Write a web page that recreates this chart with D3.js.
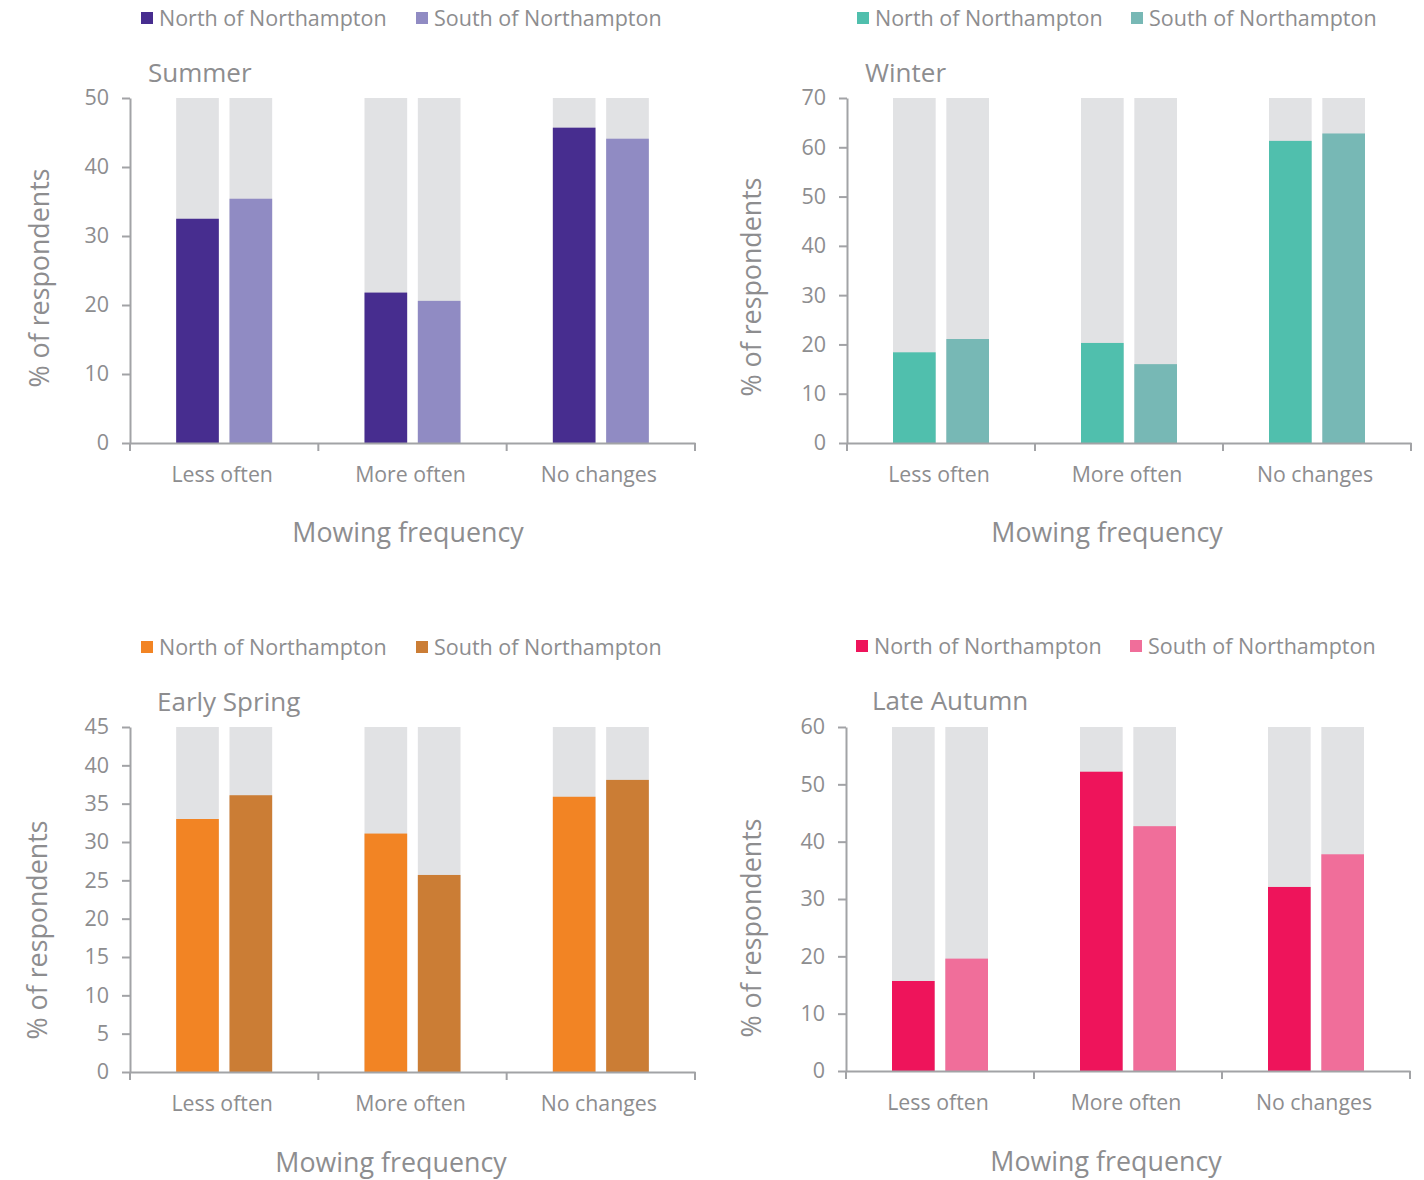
<!DOCTYPE html>
<html><head><meta charset="utf-8">
<script src="https://cdn.jsdelivr.net/npm/d3@7"></script>
<style>
body{margin:0;background:#fff;}
svg text{font-family:"Open Sans",sans-serif;fill:#8d8d8f;}
</style></head>
<body><svg id="chart" width="1424" height="1180"></svg>
<script>
// ---- data ----
const categories = ["Less often", "More often", "No changes"];
const seriesNames = ["North of Northampton", "South of Northampton"];
const panelTitles = ["Summer", "Winter", "Early Spring", "Late Autumn"];
const summerNorth = [32.5, 21.8, 45.7];
const summerSouth = [35.4, 20.6, 44.1];
const winterNorth = [18.4, 20.3, 61.3];
const winterSouth = [21.1, 16.0, 62.8];
const springNorth = [33.0, 31.1, 35.9];
const springSouth = [36.1, 25.7, 38.1];
const autumnNorth = [15.7, 52.2, 32.1];
const autumnSouth = [19.6, 42.7, 37.8];
const yMax = [50, 70, 45, 60];
const yTicks = [
  [0, 10, 20, 30, 40, 50],
  [0, 10, 20, 30, 40, 50, 60, 70],
  [0, 5, 10, 15, 20, 25, 30, 35, 40, 45],
  [0, 10, 20, 30, 40, 50, 60]
];
const xTitle = "Mowing frequency";
const yTitle = "% of respondents";

// ---- styling / layout ----
const colors = [
  ["#472d8f", "#908bc3"],
  ["#50bfad", "#77b8b5"],
  ["#f28424", "#cb7d35"],
  ["#ee145b", "#f06e9a"]
];
const bgColor = "#e1e2e4";
const axisColor = "#a2a3a6";
const layouts = [
  {x0:130, x1:695, yT:98, yB:443, legX:[141,416], legY:18, titleX:148, titleY:73, yLabX:40, yLabY:278, xLabX:408, xLabY:533},
  {x0:847, x1:1411, yT:98, yB:443, legX:[857,1131], legY:18, titleX:865, titleY:73, yLabX:752, yLabY:287, xLabX:1107, xLabY:533},
  {x0:130, x1:695, yT:727, yB:1072, legX:[141,416], legY:647, titleX:157, titleY:702, yLabX:38, yLabY:930, xLabX:391, xLabY:1163},
  {x0:846, x1:1410, yT:727, yB:1071, legX:[856,1130], legY:646, titleX:872, titleY:701, yLabX:752, yLabY:928, xLabX:1106, xLabY:1162}
];
const panelData = [
  [summerNorth, summerSouth],
  [winterNorth, winterSouth],
  [springNorth, springSouth],
  [autumnNorth, autumnSouth]
];

const svg = d3.select("#chart");

panelData.forEach((ser, pi) => {
  const L = layouts[pi];
  const g = svg.append("g");
  const x = d3.scaleBand().domain(categories).range([L.x0, L.x1]).paddingInner(0).paddingOuter(0);
  const x1 = d3.scaleBand().domain(seriesNames).range([-48, 48]).paddingInner(0.2).paddingOuter(0);
  const y = d3.scaleLinear().domain([0, yMax[pi]]).range([L.yB, L.yT]);

  // legend
  seriesNames.forEach((s, si) => {
    g.append("rect").attr("x", L.legX[si]).attr("y", L.legY - 6).attr("width", 12).attr("height", 12)
      .attr("fill", colors[pi][si]);
    g.append("text").attr("x", L.legX[si] + 18).attr("y", L.legY).attr("dy", "0.35em")
      .attr("font-size", 21.5).text(s);
  });

  // title
  g.append("text").attr("x", L.titleX).attr("y", L.titleY).attr("dy", "0.35em")
    .attr("font-size", 26).text(panelTitles[pi]);

  // bars
  categories.forEach((c, ci) => {
    const cx = x(c) + x.bandwidth() / 2;
    seriesNames.forEach((s, si) => {
      const bx = cx + x1(s);
      g.append("rect").attr("x", bx).attr("width", x1.bandwidth())
        .attr("y", y(yMax[pi])).attr("height", y(0) - y(yMax[pi])).attr("fill", bgColor);
      const v = ser[si][ci];
      g.append("rect").attr("x", bx).attr("width", x1.bandwidth())
        .attr("y", y(v)).attr("height", y(0) - y(v)).attr("fill", colors[pi][si]);
    });
  });

  // y axis
  const ya = g.append("g").attr("transform", `translate(${L.x0},0)`)
    .call(d3.axisLeft(y).tickValues(yTicks[pi]).tickSize(8).tickSizeOuter(0).tickPadding(13));
  ya.select(".domain").attr("stroke", axisColor).attr("stroke-width", 2);
  ya.selectAll(".tick line").attr("stroke", axisColor).attr("stroke-width", 2);
  ya.selectAll(".tick text").attr("font-size", 21.5).attr("fill", "#8d8d8f")
    .style("font-family", '"Open Sans",sans-serif');

  // x axis
  const xa = g.append("g").attr("transform", `translate(0,${L.yB})`)
    .call(d3.axisBottom(x).tickSize(0).tickPadding(24).tickSizeOuter(0));
  xa.select(".domain").attr("stroke", axisColor).attr("stroke-width", 2);
  xa.selectAll(".tick text").attr("font-size", 21.3).attr("fill", "#8d8d8f").attr("dx", -2)
    .style("font-family", '"Open Sans",sans-serif');
  const bounds = categories.map(c => x(c)).concat([x.range()[1]]);
  g.selectAll(null).data(bounds).enter().append("line")
    .attr("x1", d => d).attr("x2", d => d).attr("y1", L.yB).attr("y2", L.yB + 8)
    .attr("stroke", axisColor).attr("stroke-width", 2);

  // axis titles
  g.append("text").attr("x", L.xLabX).attr("y", L.xLabY).attr("dy", "0.35em")
    .attr("text-anchor", "middle").attr("font-size", 26.8).text(xTitle);
  g.append("text").attr("transform", `translate(${L.yLabX},${L.yLabY}) rotate(-90)`)
    .attr("dy", "0.35em").attr("text-anchor", "middle").attr("font-size", 26.8).text(yTitle);
});
</script>
</body></html>
